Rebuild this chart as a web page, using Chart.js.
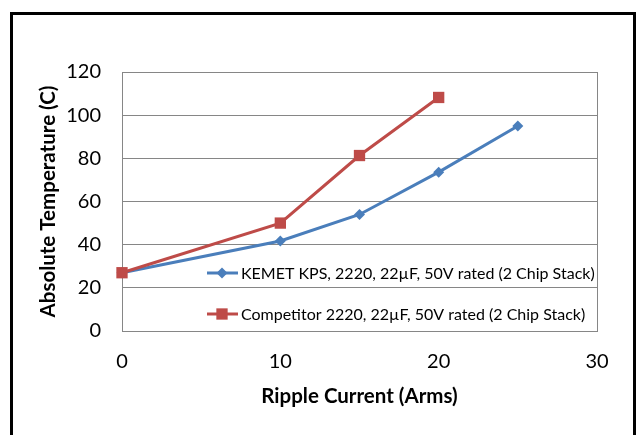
<!DOCTYPE html>
<html>
<head>
<meta charset="utf-8">
<script src="https://cdn.jsdelivr.net/npm/chart.js@4.4.1/dist/chart.umd.min.js"></script>
<style>
  html, body { margin: 0; padding: 0; background: #fff; overflow: hidden; }
  #wrap { position: relative; width: 637px; height: 435px; }
  #frame { position: absolute; left: 10px; top: 12px; width: 620px; height: 440px; border: 3px solid #000; }
  canvas { position: absolute; left: 0; top: 0; }
</style>
</head>
<body>
<div id="wrap">
  <div id="frame"></div>
  <canvas id="rippleChart" width="637" height="435"></canvas>
</div>
<script>
// data
var kemetLabel = 'KEMET KPS, 2220, 22\u00b5F, 50V rated (2 Chip Stack)';
var kemetCurrent = [0, 10, 15, 20, 25];
var kemetTemp = [27, 41.7, 54, 73.6, 95];

var compLabel = 'Competitor 2220, 22\u00b5F, 50V rated (2 Chip Stack)';
var compCurrent = [0, 10, 15, 20];
var compTemp = [27, 50, 81.3, 108.2];

var xTicks = [0, 10, 20, 30];
var yTicks = [0, 20, 40, 60, 80, 100, 120];

function toPoints(xs, ys) {
  return xs.map(function (x, i) { return { x: x, y: ys[i] }; });
}

var FONT = 'Lato, "Open Sans", sans-serif';

// legend drawn inside the plot area, bottom right
var insideLegend = {
  id: 'insideLegend',
  afterDraw: function (chart) {
    var ctx = chart.ctx;
    var rows = [273, 314];
    chart.data.datasets.forEach(function (ds, i) {
      var y = rows[i];
      ctx.save();
      ctx.strokeStyle = ds.borderColor;
      ctx.lineWidth = 3;
      ctx.beginPath();
      ctx.moveTo(207, y);
      ctx.lineTo(238, y);
      ctx.stroke();
      ctx.fillStyle = ds.backgroundColor;
      ctx.beginPath();
      if (ds.pointStyle === 'rectRot') {
        var r = ds.pointRadius;
        ctx.moveTo(222, y - r); ctx.lineTo(222 + r, y);
        ctx.lineTo(222, y + r); ctx.lineTo(222 - r, y);
      } else {
        var s = ds.pointRadius * Math.SQRT1_2;
        ctx.rect(222 - s, y - s, 2 * s, 2 * s);
      }
      ctx.closePath();
      ctx.fill();
      ctx.fillStyle = '#000';
      ctx.font = '16px ' + FONT;
      ctx.textBaseline = 'middle';
      ctx.textAlign = 'left';
      ctx.fillText(ds.label, 241, y + 1);
      ctx.restore();
    });
  }
};

// thin box round the plot area
var plotBox = {
  id: 'plotBox',
  beforeDatasetsDraw: function (chart) {
    var a = chart.chartArea, ctx = chart.ctx;
    ctx.save();
    ctx.strokeStyle = '#868686';
    ctx.lineWidth = 1;
    ctx.strokeRect(a.left + 0.5, a.top + 0.5, a.right - a.left, a.bottom - a.top);
    ctx.restore();
  }
};

var context = document.getElementById('rippleChart').getContext('2d');
var myChart = new Chart(context, {
  type: 'line',
  data: {
    datasets: [
      {
        label: kemetLabel,
        data: toPoints(kemetCurrent, kemetTemp),
        borderColor: '#4a7ebb',
        backgroundColor: '#4a7ebb',
        borderWidth: 3,
        pointStyle: 'rectRot',
        pointRadius: 5.5,
        pointHoverRadius: 5.5,
        pointBorderWidth: 0,
        tension: 0,
        clip: false,
        order: 1
      },
      {
        label: compLabel,
        data: toPoints(compCurrent, compTemp),
        borderColor: '#be4b48',
        backgroundColor: '#be4b48',
        borderWidth: 3,
        pointStyle: 'rect',
        pointRadius: 8,
        pointHoverRadius: 8,
        pointBorderWidth: 0,
        tension: 0,
        clip: false,
        order: 0
      }
    ]
  },
  options: {
    responsive: false,
    animation: false,
    layout: { padding: { left: 36, top: 72, right: 40, bottom: 0 } },
    plugins: {
      legend: { display: false },
      tooltip: { enabled: false }
    },
    scales: {
      x: {
        type: 'linear',
        min: 0,
        max: 30,
        afterBuildTicks: function (scale) {
          scale.ticks = xTicks.map(function (v) { return { value: v }; });
        },
        afterFit: function (scale) { scale.height = 104; },
        grid: { display: false, drawTicks: false },
        border: { display: true, color: '#868686', width: 1 },
        ticks: { color: '#000', padding: 19, maxRotation: 0, font: { family: FONT, size: 20 } },
        title: {
          display: true,
          text: 'Ripple Current (Arms)',
          color: '#000',
          padding: { top: 0, bottom: 26 },
          font: { family: FONT, size: 20.5, weight: 'bold' }
        }
      },
      y: {
        type: 'linear',
        min: 0,
        max: 120,
        afterBuildTicks: function (scale) {
          scale.ticks = yTicks.map(function (v) { return { value: v }; });
        },
        afterFit: function (scale) { scale.width = 86; },
        grid: { color: '#868686', lineWidth: 1, drawTicks: false },
        border: { display: true, color: '#868686', width: 1 },
        ticks: { color: '#000', padding: 21, font: { family: FONT, size: 20 } },
        title: {
          display: true,
          text: 'Absolute Temperature (C)',
          color: '#000',
          padding: { top: 0, bottom: 0 },
          font: { family: FONT, size: 20.5, weight: 'bold' }
        }
      }
    }
  },
  plugins: [plotBox, insideLegend]
});
</script>
</body>
</html>
